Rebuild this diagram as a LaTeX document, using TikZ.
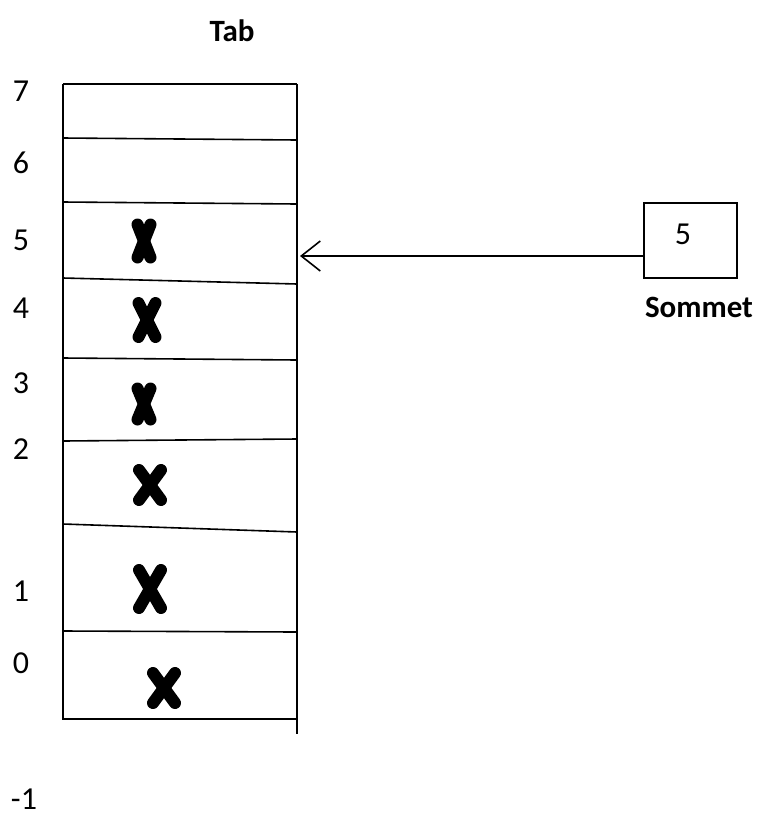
\documentclass[tikz,border=0pt]{standalone}
\usepackage{fontspec}
\setmainfont{Carlito}
\usetikzlibrary{arrows.meta}
\begin{document}
\begin{tikzpicture}[x=1pt,y=-1pt,
  frame/.style={line width=1.6pt},
  xbar/.style={line width=12pt,line cap=round},
  idx/.style={font=\fontsize{32}{32}\selectfont,inner sep=0pt},
  caption/.style={font=\fontsize{31}{31}\selectfont\bfseries,inner sep=0pt},
  ptr/.style={line width=1.6pt,-{Straight Barb[length=19pt,width=30pt,line width=1.6pt]}}]
\useasboundingbox (0,0) rectangle (759,820);

% stack array: outer frame
\draw[frame] (63,84) -- (297,84);
\draw[frame] (63,84) -- (63,719) -- (297,719);
\draw[frame] (297,84) -- (297,734);
% cell separators
\draw[frame] (63,138) -- (297,140);
\draw[frame] (63,202) -- (297,204);
\draw[frame] (63,278) -- (297,284);
\draw[frame] (63,358) -- (297,360);
\draw[frame] (63,441) -- (297,439);
\draw[frame] (63,524) -- (297,532);
\draw[frame] (63,631) -- (297,632);

% filled cells
\newcommand\cellmark[4]{%
  \draw[xbar] ({#1-#3/2+6},{#2-#4/2+6}) -- ({#1+#3/2-6},{#2+#4/2-6});
  \draw[xbar] ({#1+#3/2-6},{#2-#4/2+6}) -- ({#1-#3/2+6},{#2+#4/2-6});}
\cellmark{144}{241}{25}{45}
\cellmark{147}{320}{29}{46}
\cellmark{144}{404}{25}{43}
\cellmark{150}{485}{34}{42}
\cellmark{150}{589}{34}{50}
\cellmark{164}{688}{34}{42}

% indices
\node[idx] (i7) at (21,91) {7};
\node[idx] (i6) at (21,163) {6};
\node[idx] (i5) at (21,240) {5};
\node[idx] (i4) at (21,308) {4};
\node[idx] (i3) at (21,383) {3};
\node[idx] (i2) at (21,449) {2};
\node[idx] (i1) at (21,591) {1};
\node[idx] (i0) at (21,663) {0};
\node[idx] (im) at (24,799) {-1};

\node[caption] (tab) at (232,31) {Tab};

% top pointer
\node[draw,line width=1.6pt,minimum width=93pt,minimum height=75pt,inner sep=0pt] (sommet) at (690.5,240.5) {};
\node[idx] (sval) at (683,234) {5};
\node[caption] (slabel) at (699,307) {Sommet};
\coordinate (tip) at (300,256);
\draw[ptr] (sommet.west |- tip) -- (tip);
\end{tikzpicture}
\end{document}
